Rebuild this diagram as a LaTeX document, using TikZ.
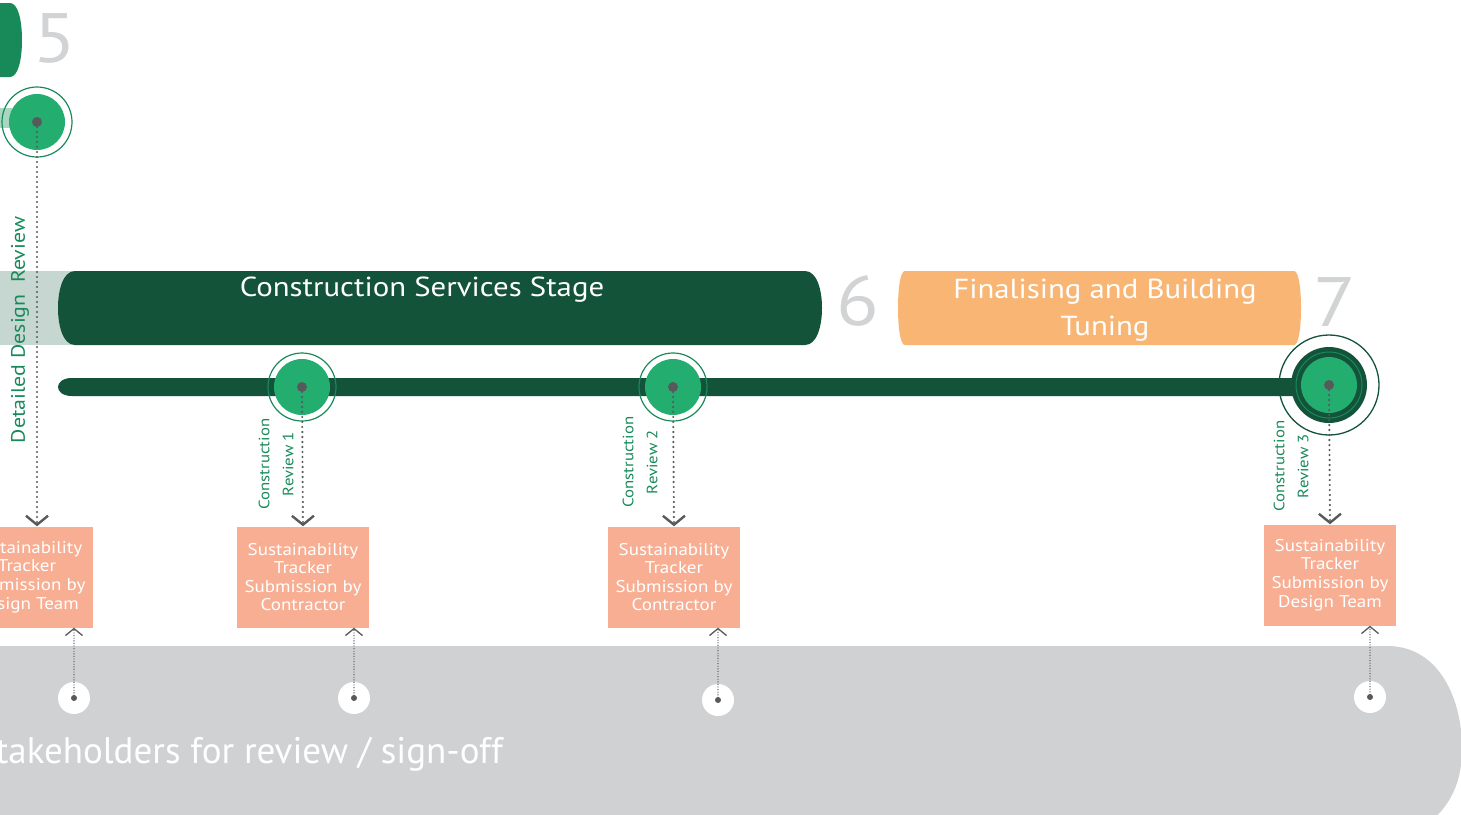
\documentclass[tikz,border=0pt]{standalone}
\usepackage{fontspec}
\setmainfont{PT Sans}[FakeStretch=1.12]
\newfontfamily\bandfont{PT Sans}
\usetikzlibrary{arrows.meta}

\definecolor{deepgreen}{RGB}{18,83,58}
\definecolor{midgreen}{RGB}{24,138,90}
\definecolor{brightgreen}{RGB}{35,173,111}
\definecolor{numgray}{RGB}{209,211,212}
\definecolor{tuneorange}{RGB}{248,181,116}
\definecolor{salmon}{RGB}{247,174,147}
\definecolor{bandgray}{RGB}{208,209,211}
\definecolor{dotgray}{RGB}{88,89,91}
\definecolor{palegreen}{RGB}{198,215,209}
\definecolor{lightgreen}{RGB}{169,214,190}

\tikzset{
  stepnum/.style={text=numgray, inner sep=0pt, font=\fontsize{70}{70}\selectfont},
  stagetext/.style={text=white, align=center, inner sep=0pt, font=\fontsize{27.5}{37}\selectfont},
  milestone/.style={circle, fill=brightgreen, minimum size=56pt, inner sep=0pt},
  ring/.style={draw=midgreen, line width=1.2pt},
  pin/.style={fill=dotgray},
  tracker/.style={fill=salmon, text=white, minimum width=132pt, minimum height=101pt,
    align=center, inner sep=0pt, font=\fontsize{17}{18.6}\selectfont},
  reviewlabel/.style={rotate=90, text=midgreen, align=center, inner sep=0pt,
    font=\fontsize{15}{24}\selectfont},
  signoff/.style={circle, fill=white, minimum size=32pt, inner sep=0pt},
  dotdown/.style={draw=dotgray, line width=2.4pt, line cap=round, dash pattern=on 0pt off 5pt,
    -{Straight Barb[length=9pt,width=22pt,line width=2.4pt]}},
  dotup/.style={draw=dotgray, line width=1.4pt, line cap=round, dash pattern=on 0pt off 2.6pt,
    -{Straight Barb[length=7pt,width=17pt,line width=1.3pt]}},
}

\begin{document}
\begin{tikzpicture}[x=1pt, y=-1pt]

    \useasboundingbox (0,0) rectangle (1461,814);

    % grey band along the bottom
    \fill[bandgray] (-10,646) -- (1390,646) .. controls (1440,648) and (1462,700) .. (1462,748)
        .. controls (1462,790) and (1445,812) .. (1420,830) -- (-10,830) -- cycle;
    \node[text=white, anchor=east, inner sep=0pt, font=\bandfont\fontsize{37}{37}\selectfont]
        (signtext) at (503,754) {stakeholders for review / sign-off};

    % stage 5 (only its end is shown)
    \fill[midgreen] (-5,3) -- (10,3) .. controls (18,3) and (22,20) .. (22,40)
        .. controls (22,60) and (18,77) .. (10,77) -- (-5,77) -- cycle;
    \node[stepnum] (five) at (55,38) {5};
    \fill[lightgreen] (0,108) rectangle (12,128);

    % stage 6 bar
    \fill[palegreen] (0,271) rectangle (75,345);
    \fill[deepgreen] (75,271) -- (805,271) .. controls (817,271) and (822,290) .. (822,308)
        .. controls (822,326) and (817,345) .. (805,345) -- (75,345)
        .. controls (63,345) and (58,326) .. (58,308) .. controls (58,290) and (63,271) .. (75,271) -- cycle;
    \node[stagetext] (cstage) at (422,290) {Construction Services Stage};
    \node[stepnum] (six) at (858,301) {6};

    % stage 7 bar
    \fill[tuneorange] (905,271) -- (1294,271) .. controls (1299,271) and (1301,290) .. (1301,308)
        .. controls (1301,326) and (1299,345) .. (1294,345) -- (905,345)
        .. controls (900,345) and (898,326) .. (898,308) .. controls (898,290) and (900,271) .. (905,271) -- cycle;
    \node[stagetext] (tuning) at (1105,310) {Finalising and Building\\Tuning};
    \node[stepnum] (seven) at (1335,302) {7};

    % timeline
    \fill[deepgreen] (72,378) -- (1320,378) -- (1320,396) -- (72,396)
        .. controls (62,396) and (58,391) .. (58,387) .. controls (58,383) and (62,378) .. (72,378) -- cycle;

    % milestones
    \node[milestone] (m0) at (37,122) {};
    \draw[ring] (m0) circle (35pt);
    \node[milestone] (m1) at (302,387) {};
    \draw[ring] (m1) circle (34pt);
    \node[milestone] (m2) at (673,387) {};
    \draw[ring] (m2) circle (34pt);
    \fill[deepgreen] (1329,385) circle (38pt);
    \draw[draw=deepgreen, line width=1.3pt] (1329,385) circle (50pt);
    \draw[draw=midgreen, line width=1pt] (1329,385) circle (33pt);
    \node[milestone] (m3) at (1329,385) {};

    % review labels
    \node[rotate=90, text=midgreen, inner sep=0pt, font=\fontsize{19.5}{19.5}\selectfont]
        (ddr) at (20,330) {Detailed Design\ \ Review};
    \node[reviewlabel] (r1) at (276,464) {Construction\\Review 1};
    \node[reviewlabel] (r2) at (640,462) {Construction\\Review 2};
    \node[reviewlabel] (r3) at (1291,466) {Construction\\Review 3};

    % tracker submissions
    \node[tracker] (t0) at (27,577) {Sustainability\\Tracker\\Submission by\\Design Team};
    \node[tracker] (t1) at (303,577) {Sustainability\\Tracker\\Submission by\\Contractor};
    \node[tracker] (t2) at (674,577) {Sustainability\\Tracker\\Submission by\\Contractor};
    \node[tracker] (t3) at (1330,575) {Sustainability\\Tracker\\Submission by\\Design Team};

    % sign-off points
    \node[signoff] (s0) at (74,698) {};
    \node[signoff] (s1) at (354,698) {};
    \node[signoff] (s2) at (718,700) {};
    \node[signoff] (s3) at (1370,697) {};

    % connectors
    \draw[dotdown] (m0.center) -- (m0.center |- t0.north);
    \draw[dotdown] (m1.center) -- (t1.north);
    \draw[dotdown] (m2.center) -- (t2.north);
    \draw[dotdown] (m3.center) -- (t3.north);
    \draw[dotup] (s0.center) -- (s0.center |- t0.south);
    \draw[dotup] (s1.center) -- (s1.center |- t1.south);
    \draw[dotup] (s2.center) -- (s2.center |- t2.south);
    \draw[dotup] (s3.center) -- (s3.center |- t3.south);

    % centre dots
    \foreach \m in {m0,m1,m2,m3} {
        \fill[pin] (\m.center) circle (5pt);
    }
    \foreach \s in {s0,s1,s2,s3} {
        \fill[pin] (\s.center) circle (3pt);
    }

\end{tikzpicture}
\end{document}
